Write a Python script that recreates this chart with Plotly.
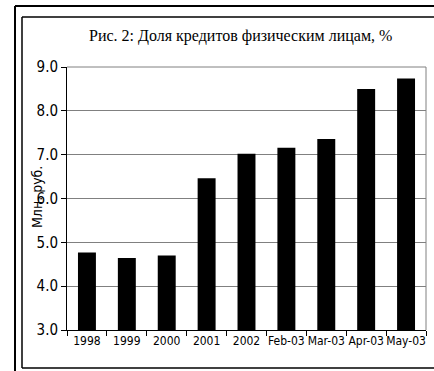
import plotly.graph_objects as go

categories = ["1998", "1999", "2000", "2001", "2002", "Feb-03", "Mar-03", "Apr-03", "May-03"]
values = [4.77, 4.64, 4.70, 6.46, 7.02, 7.16, 7.36, 8.50, 8.74]
y_ticks = [3.0, 4.0, 5.0, 6.0, 7.0, 8.0, 9.0]
y_tick_labels = ["3.0", "4.0", "5.0", "6.0", "7.0", "8.0", "9.0"]
title_text = "Рис. 2: Доля кредитов физическим лицам, %"
y_title = "Млн. руб."

W, H = 434, 371
# plot area in window pixels: left 67, right 426, top 67, bottom 330
L, R, T, B = 67, W - 426, 67, H - 330
pw, ph = W - L - R, H - T - B

def px_x(x):
    return (x - L) / pw

def px_y(y):
    return (H - B - y) / ph

narrow = "DejaVu Sans Condensed, Liberation Sans, Arial, sans-serif"

fig = go.Figure(go.Bar(
    x=categories, y=values,
    marker=dict(color="black", line=dict(width=0)),
    width=0.45,
))

fig.update_layout(
    width=W, height=H,
    margin=dict(l=L, r=R, t=T, b=B),
    paper_bgcolor="white", plot_bgcolor="white",
    showlegend=False,
    font=dict(family=narrow, color="black"),
    xaxis=dict(
        showline=True, linecolor="black", linewidth=1,
        ticks="outside", ticklen=5, tickcolor="black", tickson="boundaries",
        tickangle=0,
        tickfont=dict(size=12, family=narrow), showgrid=False, mirror=False,
    ),
    yaxis=dict(
        range=[3, 9], tickvals=y_ticks, ticktext=y_tick_labels,
        showline=True, linecolor="black", linewidth=1,
        ticks="outside", ticklen=5, tickcolor="black",
        tickfont=dict(size=15, family=narrow),
        showgrid=True, gridcolor="#808080", gridwidth=1, zeroline=False,
    ),
)

shapes = [
    # plot area grey border (top and right)
    dict(type="line", xref="paper", yref="paper", x0=0, x1=1, y0=1, y1=1,
         line=dict(color="#808080", width=1)),
    dict(type="line", xref="paper", yref="paper", x0=1, x1=1, y0=0, y1=1,
         line=dict(color="#808080", width=1)),
    # outer frame
    dict(type="line", xref="paper", yref="paper", x0=px_x(15), x1=px_x(440), y0=px_y(6), y1=px_y(6),
         line=dict(color="black", width=2)),
    dict(type="line", xref="paper", yref="paper", x0=px_x(15), x1=px_x(15), y0=px_y(6), y1=px_y(380),
         line=dict(color="black", width=2)),
    # inner frame
    dict(type="line", xref="paper", yref="paper", x0=px_x(22), x1=px_x(440), y0=px_y(17), y1=px_y(17),
         line=dict(color="black", width=1.5)),
    dict(type="line", xref="paper", yref="paper", x0=px_x(22), x1=px_x(22), y0=px_y(17), y1=px_y(368),
         line=dict(color="black", width=1.5)),
    dict(type="line", xref="paper", yref="paper", x0=px_x(22), x1=px_x(440), y0=px_y(368), y1=px_y(368),
         line=dict(color="black", width=1.5)),
]
fig.update_layout(shapes=shapes)

fig.add_annotation(
    text=title_text, xref="paper", yref="paper",
    x=px_x(240), y=px_y(36), xanchor="center", yanchor="middle",
    showarrow=False,
    font=dict(family="Liberation Serif, Times New Roman, serif", size=16, color="black"),
)
fig.add_annotation(
    text=y_title, xref="paper", yref="paper",
    x=px_x(37), y=px_y(197), xanchor="center", yanchor="middle",
    textangle=-90, showarrow=False,
    font=dict(family=narrow, size=14, color="black"),
)

fig.write_html(
    "out.html",
    config={"displayModeBar": False},
    post_script="document.documentElement.style.margin='0';document.body.style.margin='0';"
                "document.documentElement.style.overflow='hidden';document.body.style.overflow='hidden';",
)
